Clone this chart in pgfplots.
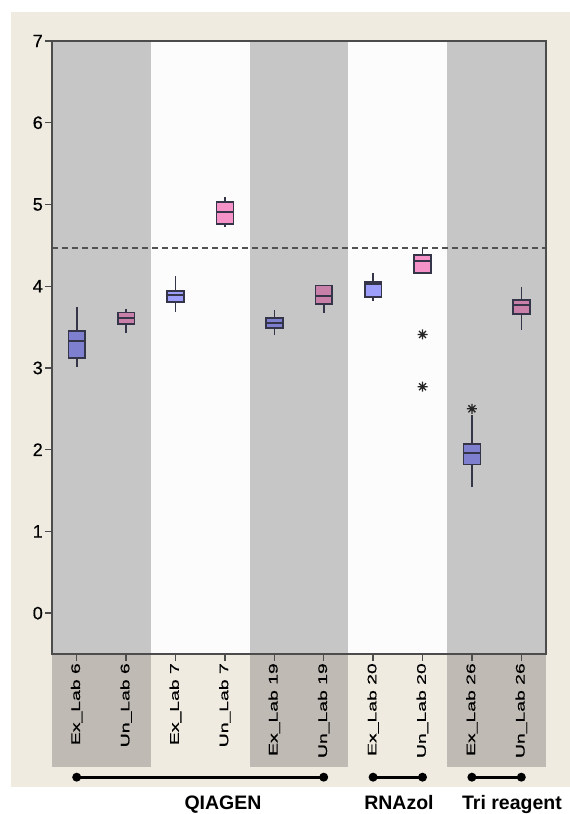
\documentclass[border=0pt]{standalone}
\usepackage{fontspec}
\setmainfont{Liberation Sans}
\newfontfamily\tickfont[FakeBold=0.5]{Liberation Sans}
\usepackage{graphicx}
\usepackage{pgfplots}
\pgfplotsset{compat=1.18}
\usepgfplotslibrary{statistics}

\definecolor{panel}{HTML}{EFEBE1}
\definecolor{bandgray}{HTML}{C6C6C6}
\definecolor{bandwhite}{HTML}{FCFCFC}
\definecolor{labgray}{HTML}{BFBAB3}
\definecolor{exdark}{HTML}{7F7FCF}
\definecolor{exlight}{HTML}{9D9DFA}
\definecolor{undark}{HTML}{C880A8}
\definecolor{unlight}{HTML}{F592C8}
\definecolor{edge}{HTML}{35354A}

% eight-spoke star used for outliers
\pgfdeclareplotmark{star8}{%
  \pgfpathmoveto{\pgfpoint{-\pgfplotmarksize}{0pt}}\pgfpathlineto{\pgfpoint{\pgfplotmarksize}{0pt}}%
  \pgfpathmoveto{\pgfpoint{0pt}{-\pgfplotmarksize}}\pgfpathlineto{\pgfpoint{0pt}{\pgfplotmarksize}}%
  \pgfpathmoveto{\pgfpoint{-0.7\pgfplotmarksize}{-0.7\pgfplotmarksize}}\pgfpathlineto{\pgfpoint{0.7\pgfplotmarksize}{0.7\pgfplotmarksize}}%
  \pgfpathmoveto{\pgfpoint{-0.7\pgfplotmarksize}{0.7\pgfplotmarksize}}\pgfpathlineto{\pgfpoint{0.7\pgfplotmarksize}{-0.7\pgfplotmarksize}}%
  \pgfusepathqstroke}

\newcommand{\lab}[1]{\scalebox{1.55}[1]{#1}}

\begin{document}
\begin{tikzpicture}
\useasboundingbox (0pt,0pt) rectangle (570pt,-814pt);
\fill[white] (0pt,0pt) rectangle (570pt,-814pt);
\fill[panel] (11pt,-12pt) rectangle (570pt,-787pt);

\begin{axis}[
  at={(52pt,-654pt)}, anchor=south west,
  width=494pt, height=613pt, scale only axis,
  xmin=-0.5, xmax=9.5, ymin=-0.5, ymax=7,
  clip=false, axis on top,
  axis line style={draw=black!70, line width=1.4pt},
  xtick={0,...,9},
  xticklabels={\lab{Ex\_Lab 6},\lab{Un\_Lab 6},\lab{Ex\_Lab 7},\lab{Un\_Lab 7},\lab{Ex\_Lab 19},\lab{Un\_Lab 19},\lab{Ex\_Lab 20},\lab{Un\_Lab 20},\lab{Ex\_Lab 26},\lab{Un\_Lab 26}},
  ytick={0,...,7},
  tick align=outside, xtick pos=bottom, ytick pos=left,
  major tick length=7pt,
  tick style={draw=black!70, line width=1.3pt},
  /pgf/number format/assume math mode=true,
  yticklabel style={font=\tickfont\fontsize{18}{18}\selectfont, inner sep=2pt},
  xticklabel style={rotate=90, anchor=east, font=\tickfont\fontsize{12.5}{12.5}\selectfont, inner sep=2pt},
  boxplot/draw direction=y,
]
% plot-area stripes and the matching stripes behind the tick labels
\fill[bandwhite] (axis cs:-0.5,-0.5) rectangle (axis cs:9.5,7);
\fill[bandgray] (axis cs:-0.5,-0.5) rectangle (axis cs:1.5,7);
\fill[bandgray] (axis cs:3.5,-0.5) rectangle (axis cs:5.5,7);
\fill[bandgray] (axis cs:7.5,-0.5) rectangle (axis cs:9.5,7);
\fill[labgray] (axis cs:-0.5,-0.5) rectangle (axis cs:1.5,-1.883);
\fill[labgray] (axis cs:3.5,-0.5) rectangle (axis cs:5.5,-1.883);
\fill[labgray] (axis cs:7.5,-0.5) rectangle (axis cs:9.5,-1.883);

% reference level
\addplot[draw=black!68, line width=1.5pt, dash pattern=on 6pt off 4pt] coordinates {(-0.5,4.47) (9.5,4.47)};

\pgfplotsset{bx/.style={draw=edge, line width=1.6pt, solid, mark=star8,
  mark size=5pt, mark options={draw=black!85, line width=1.3pt},
  boxplot/box extend=0.34, boxplot/whisker extend=0}}

% Ex_Lab 6
\addplot[bx, fill=exdark, boxplot prepared={draw position=0,
  lower whisker=3.01, lower quartile=3.12, median=3.33, upper quartile=3.45, upper whisker=3.74}] coordinates {};
% Un_Lab 6
\addplot[bx, fill=undark, boxplot prepared={draw position=1,
  lower whisker=3.43, lower quartile=3.54, median=3.61, upper quartile=3.68, upper whisker=3.72}] coordinates {};
% Ex_Lab 7
\addplot[bx, fill=exlight, boxplot prepared={draw position=2,
  lower whisker=3.68, lower quartile=3.81, median=3.89, upper quartile=3.94, upper whisker=4.12}] coordinates {};
% Un_Lab 7
\addplot[bx, fill=unlight, boxplot prepared={draw position=3,
  lower whisker=4.72, lower quartile=4.76, median=4.91, upper quartile=5.03, upper whisker=5.09}] coordinates {};
% Ex_Lab 19
\addplot[bx, fill=exdark, boxplot prepared={draw position=4,
  lower whisker=3.40, lower quartile=3.49, median=3.55, upper quartile=3.61, upper whisker=3.71}] coordinates {};
% Un_Lab 19
\addplot[bx, fill=undark, boxplot prepared={draw position=5,
  lower whisker=3.67, lower quartile=3.78, median=3.88, upper quartile=4.01, upper whisker=4.02}] coordinates {};
% Ex_Lab 20
\addplot[bx, fill=exlight, boxplot prepared={draw position=6,
  lower whisker=3.82, lower quartile=3.87, median=4.03, upper quartile=4.05, upper whisker=4.16}] coordinates {};
% Un_Lab 20, with two outliers
\addplot[bx, fill=unlight, boxplot prepared={draw position=7,
  lower whisker=4.15, lower quartile=4.16, median=4.31, upper quartile=4.38, upper whisker=4.47}]
  table[row sep=\\, y index=0] {v\\ 3.41\\ 2.77\\};
% Ex_Lab 26, with one outlier
\addplot[bx, fill=exdark, boxplot prepared={draw position=8,
  lower whisker=1.54, lower quartile=1.82, median=1.96, upper quartile=2.07, upper whisker=2.42}]
  table[row sep=\\, y index=0] {v\\ 2.50\\};
% Un_Lab 26
\addplot[bx, fill=undark, boxplot prepared={draw position=9,
  lower whisker=3.47, lower quartile=3.66, median=3.77, upper quartile=3.83, upper whisker=3.99}] coordinates {};

% extraction-method brackets
\draw[line width=3pt, black] (axis cs:0,-2.007) -- (axis cs:5,-2.007);
\draw[line width=3pt, black] (axis cs:6,-2.007) -- (axis cs:7,-2.007);
\draw[line width=3pt, black] (axis cs:8,-2.007) -- (axis cs:9,-2.007);
\fill[black] (axis cs:0,-2.007) circle[radius=4.5pt];
\fill[black] (axis cs:5,-2.007) circle[radius=4.5pt];
\fill[black] (axis cs:6,-2.007) circle[radius=4.5pt];
\fill[black] (axis cs:7,-2.007) circle[radius=4.5pt];
\fill[black] (axis cs:8,-2.007) circle[radius=4.5pt];
\fill[black] (axis cs:9,-2.007) circle[radius=4.5pt];
\end{axis}

\node[anchor=base, font=\fontsize{19.5}{19.5}\selectfont\bfseries] at (223pt,-809.5pt) {QIAGEN};
\node[anchor=base, font=\fontsize{19.5}{19.5}\selectfont\bfseries] at (399pt,-809.5pt) {RNAzol};
\node[anchor=base, font=\fontsize{19.5}{19.5}\selectfont\bfseries] at (512pt,-809.5pt) {Tri reagent};
\end{tikzpicture}
\end{document}
